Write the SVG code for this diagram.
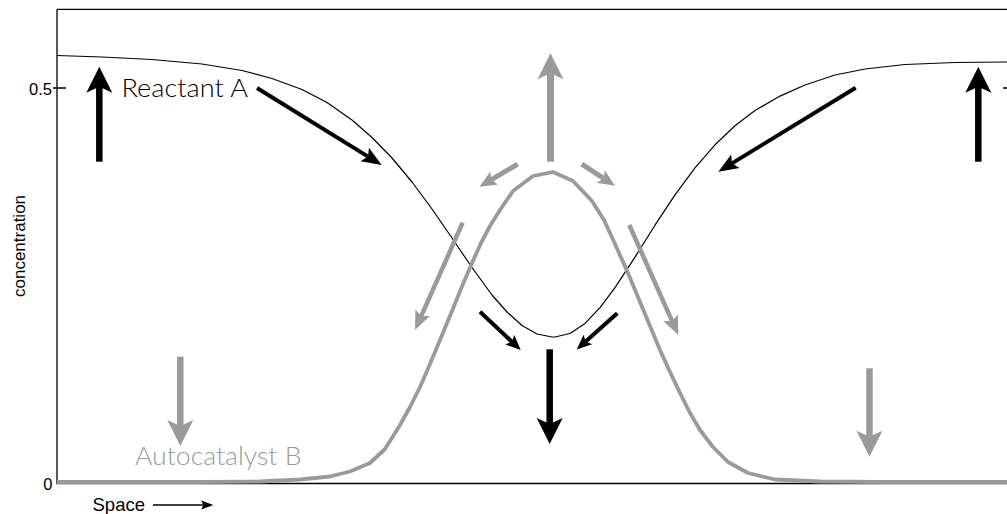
<svg xmlns="http://www.w3.org/2000/svg" width="1007" height="514" viewBox="0 0 1007 514">
<style>
.axis{stroke:#000;stroke-width:1.3;fill:none}
.small{font-family:"Liberation Sans",Arial,sans-serif;font-size:16.5px;fill:#000}
.big{font-family:"Lato","Liberation Sans",sans-serif;font-weight:300;font-size:25.5px}
.blk{stroke:#000;fill:none}
.gry{stroke:#9a9a9a;fill:none}
</style>
<defs>
<marker id="bigK" markerUnits="userSpaceOnUse" viewBox="0 -13 26 26" markerWidth="26" markerHeight="26" refX="6" refY="0" orient="auto" overflow="visible"><path d="M0,-13 L26,0 L0,13 L6,0 Z" fill="#000"/></marker>
<marker id="bigG" markerUnits="userSpaceOnUse" viewBox="0 -13 26 26" markerWidth="26" markerHeight="26" refX="6" refY="0" orient="auto" overflow="visible"><path d="M0,-13 L26,0 L0,13 L6,0 Z" fill="#9a9a9a"/></marker>
<marker id="medK" markerUnits="userSpaceOnUse" viewBox="0 -8 20 16" markerWidth="20" markerHeight="16" refX="4" refY="0" orient="auto" overflow="visible"><path d="M0,-8 L20,0 L0,8 L4,0 Z" fill="#000"/></marker>
<marker id="medG" markerUnits="userSpaceOnUse" viewBox="0 -8 19 16" markerWidth="19" markerHeight="16" refX="4" refY="0" orient="auto" overflow="visible"><path d="M0,-8 L19,0 L0,8 L4,0 Z" fill="#9a9a9a"/></marker>
<marker id="smG" markerUnits="userSpaceOnUse" viewBox="0 -7.5 17 15" markerWidth="17" markerHeight="15" refX="3.5" refY="0" orient="auto" overflow="visible"><path d="M0,-7.5 L17,0 L0,7.5 L3.5,0 Z" fill="#9a9a9a"/></marker>
<marker id="smK" markerUnits="userSpaceOnUse" viewBox="0 -6.5 15 13" markerWidth="15" markerHeight="13" refX="3" refY="0" orient="auto" overflow="visible"><path d="M0,-6.5 L15,0 L0,6.5 L3,0 Z" fill="#000"/></marker>
<marker id="tinyK" markerUnits="userSpaceOnUse" viewBox="0 -4.5 12 9" markerWidth="12" markerHeight="9" refX="2" refY="0" orient="auto" overflow="visible"><path d="M0,-4.5 L12,0 L0,4.5 L2,0 Z" fill="#000"/></marker>
</defs>
<rect width="1007" height="514" fill="#fff"/>
<g id="axes">
<path class="axis" d="M57,9.3 H1007 M57,9.3 V484 M57,483.5 H1007 M53,88 H66 M1003,88 H1007"/>
<text class="small" x="52" y="95" text-anchor="end">0.5</text>
<text class="small" x="52.5" y="490" text-anchor="end">0</text>
<text class="small" style="font-size:17px" transform="translate(24.5,246) rotate(-90)" text-anchor="middle">concentration</text>
<text class="small" x="92.5" y="510.5" style="font-size:18.5px">Space</text>
<line class="blk" x1="153" y1="505" x2="203.3" y2="505" stroke-width="1.5" marker-end="url(#tinyK)"/>
</g>
<g id="curve-reactant-a">
<polyline class="blk" stroke-width="1.2" stroke-linejoin="round" points="57,55.5 102,57 152,59.5 202,64 242,70.5 272,78.5 302,89.5 327,102.5 352,120 372,137.5 392,158 412,182 432,209 452,238 472,267.5 492,295 507,312 522,325.5 537,334 552,337 555,337 570,333.5 585,323.4 600,307.7 615,287.7 635,257.1 655,225.2 675,194.9 695,167.9 715,144.8 735,125.7 755,110.5 780,96.1 805,85 835,75 865,69 905,64.5 955,62.5 1007,62"/>
</g>
<g id="curve-autocatalyst-b">
<polyline class="gry" stroke-width="3.8" stroke-linejoin="round" points="57,482 200,482 260,481.5 300,479.5 330,476.5 350,471.5 370,463 385,449 400,425 410,407 420,387 430,364 440,340 452,311 463,284 472,263 481,243 490,226 500,210 513,191 533,176 553,172 573,181 592,201 604,220 615,244 628,273 640,302 650,326 660,350 670,372 680,393 690,413 700,430 713,447 728,462 748,473 775,479.5 820,481.5 880,482 1007,482"/>
</g>
<g id="label-reactant-a">
<text class="big" x="121.5" y="96.7" fill="#000" textLength="126.5" lengthAdjust="spacingAndGlyphs">Reactant A</text>
</g>
<g id="label-autocatalyst-b">
<text class="big" x="135" y="465" fill="#9a9a9a" textLength="166.5" lengthAdjust="spacingAndGlyphs">Autocatalyst B</text>
</g>
<g id="arrows">
<line class="blk" x1="99.3" y1="161.7" x2="99.3" y2="86.7" stroke-width="6.5" marker-end="url(#bigK)"/>
<line class="blk" x1="978.3" y1="161.7" x2="978.3" y2="86.7" stroke-width="6.5" marker-end="url(#bigK)"/>
<line class="gry" x1="550.5" y1="161.7" x2="550.5" y2="73.3" stroke-width="7" marker-end="url(#bigG)"/>
<line class="blk" x1="549.7" y1="349.3" x2="549.7" y2="424" stroke-width="6.5" marker-end="url(#bigK)"/>
<line class="gry" x1="180.3" y1="356.7" x2="180.3" y2="426" stroke-width="6.5" marker-end="url(#bigG)"/>
<line class="gry" x1="869.5" y1="368.3" x2="869.5" y2="436.7" stroke-width="6.5" marker-end="url(#bigG)"/>
<line class="blk" x1="257" y1="88" x2="368.1" y2="156.6" stroke-width="4" marker-end="url(#medK)"/>
<line class="blk" x1="855.7" y1="87.7" x2="731.95" y2="163.35" stroke-width="4" marker-end="url(#medK)"/>
<line class="gry" x1="517.7" y1="164.2" x2="491.1" y2="179.8" stroke-width="5" marker-end="url(#smG)"/>
<line class="gry" x1="581.7" y1="164.2" x2="603.65" y2="178.4" stroke-width="5" marker-end="url(#smG)"/>
<line class="gry" x1="462.7" y1="222.7" x2="421.1" y2="316.3" stroke-width="4.5" marker-end="url(#medG)"/>
<line class="gry" x1="629.3" y1="225" x2="672.2" y2="321.3" stroke-width="4.5" marker-end="url(#medG)"/>
<line class="blk" x1="480" y1="311.7" x2="512" y2="341.8" stroke-width="4" marker-end="url(#smK)"/>
<line class="blk" x1="617.3" y1="313.3" x2="585.65" y2="341.5" stroke-width="4" marker-end="url(#smK)"/>
</g>
</svg>
